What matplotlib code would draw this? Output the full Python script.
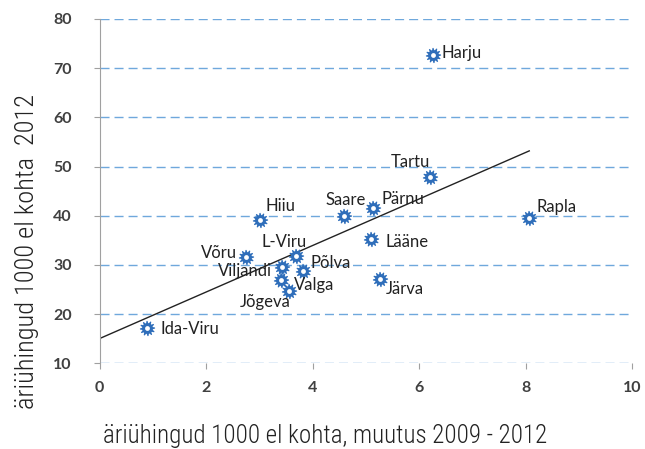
import numpy as np
import matplotlib.pyplot as plt
from matplotlib.path import Path

# maakonnad (counties) and their values
counties = ['Harju', 'Tartu', 'Rapla', 'Pärnu', 'Saare', 'Hiiu', 'Lääne', 'L-Viru',
            'Võru', 'Viljandi', 'Põlva', 'Järva', 'Valga', 'Jõgeva', 'Ida-Viru']
change_2009_2012 = [6.26, 6.20, 8.07, 5.14, 4.60, 3.02, 5.10, 3.69,
                    2.75, 3.42, 3.82, 5.27, 3.41, 3.56, 0.90]
companies_2012 = [72.7, 47.9, 39.5, 41.6, 40.0, 39.1, 35.3, 31.8,
                  31.6, 29.5, 28.8, 27.2, 26.9, 24.7, 17.1]

# label offsets in pixels (dx, dy, ha)
label_pos = {
    'Harju': (9, 2, 'left'), 'Tartu': (-19, 15, 'center'), 'Rapla': (7, 11, 'left'),
    'Pärnu': (8, 9, 'left'), 'Saare': (1, 16, 'center'), 'Hiiu': (5, 14, 'left'),
    'Lääne': (14, -3, 'left'), 'L-Viru': (-12, 14, 'center'), 'Võru': (-9, 4, 'right'),
    'Viljandi': (-10, -4, 'right'), 'Põlva': (8, 8, 'left'), 'Järva': (6, -10, 'left'),
    'Valga': (13, -5, 'left'), 'Jõgeva': (2, -11, 'right'), 'Ida-Viru': (13, -1, 'left'),
}

narrow = ['Roboto Condensed', 'Liberation Sans Narrow', 'DejaVu Sans']

# gear-like marker
n_teeth = 12
angles = np.linspace(0, 2 * np.pi, n_teeth * 4, endpoint=False)
radii = np.tile([1.0, 1.0, 0.72, 0.72], n_teeth)
verts = np.column_stack([radii * np.cos(angles), radii * np.sin(angles)])
gear = Path(np.vstack([verts, verts[:1]]), closed=True)

fig = plt.figure(figsize=(6.45, 4.49), dpi=100)
ax = fig.add_axes([0.1543, 0.1909, 0.8256, 0.7668])

x = np.array(change_2009_2012)
y = np.array(companies_2012)

ax.set_xlim(0, 10)
ax.set_ylim(10, 80)
ax.set_xticks(range(0, 11, 2))
ax.set_yticks(range(10, 81, 10))
ax.grid(axis='y', color='#6fa8dc', linestyle=(0, (6.5, 3.6)), linewidth=1)
ax.set_axisbelow(True)

# trend line
k, b = np.polyfit(x, y, 1)
xx = np.array([0, x.max()])
ax.plot(xx, k * xx + b, color='#222222', linewidth=1)

ax.scatter(x, y, marker=gear, s=120, color='#2f6eba', zorder=3, linewidths=0)
ax.scatter(x, y, marker='o', s=12, color='white', zorder=4, linewidths=0)

for name, xi, yi in zip(counties, x, y):
    dx, dy, ha = label_pos[name]
    ax.annotate(name, (xi, yi), xytext=(dx, dy), textcoords='offset pixels',
                ha=ha, va='center', fontsize=12, family='Lato', color='#222222')

for s in ['top', 'right', 'bottom']:
    ax.spines[s].set_visible(False)
ax.spines['left'].set_color('#a0a0a0')
ax.tick_params(axis='both', colors='#a0a0a0', labelcolor='#404040',
               labelsize=11.5, length=4)
ax.tick_params(axis='x', pad=9)
ax.tick_params(axis='y', pad=16)
for lbl in ax.get_xticklabels() + ax.get_yticklabels():
    lbl.set_family('Lato')
    lbl.set_fontweight('bold')

ax.set_xlabel('äriühingud 1000 el kohta, muutus 2009 - 2012', family=narrow,
              fontstretch='condensed', fontweight='light', fontsize=18, color='#222222')
ax.set_ylabel('äriühingud 1000 el kohta  2012', family=narrow,
              fontstretch='condensed', fontweight='light', fontsize=19, color='#222222')
ax.xaxis.set_label_coords(0.4235, -0.2323)
ax.yaxis.set_label_coords(-0.136, 0.326)
ax.xaxis.label.set_va('baseline')
ax.yaxis.label.set_va('center')

fig.savefig('out.png', dpi=100)
